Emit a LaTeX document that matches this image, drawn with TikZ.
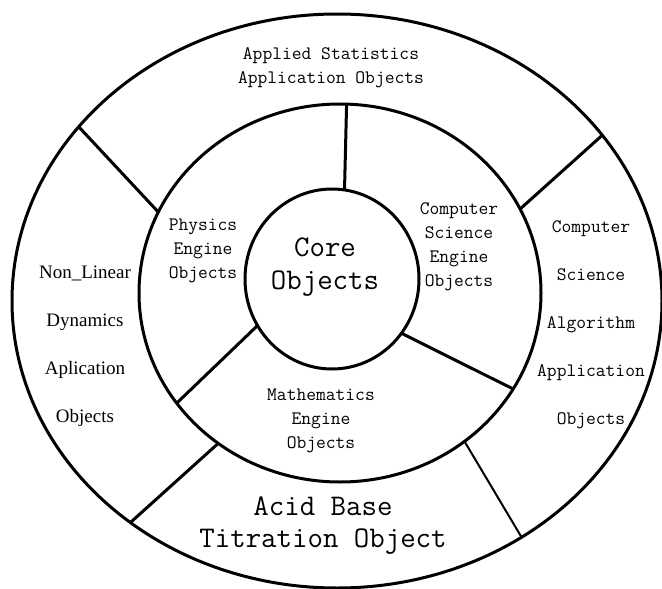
\documentclass[tikz,border=0pt]{standalone}
\usepackage{fontspec}
\setmonofont{Latin Modern Mono}
\newfontfamily\ringserif{Liberation Serif}
\usepackage{tikz}
\usetikzlibrary{shapes.geometric}

\begin{document}
\begin{tikzpicture}[x=1pt, y=-1pt,
    ring/.style={ellipse, draw, line width=3pt, inner sep=0pt, outer sep=0pt},
    divider/.style={line width=3pt},
    smalllabel/.style={align=center, font=\ttfamily\fontsize{19}{24}\selectfont},
    widelabel/.style={align=center, font=\ttfamily\fontsize{19}{48}\selectfont},
    biglabel/.style={align=center, font=\ttfamily\fontsize{30}{33}\selectfont}]
    \useasboundingbox (0,0) rectangle (662,589);
    % the three rings
    \node[ring, minimum width=650pt, minimum height=574pt] (outer) at (337,301) {};
    \node[ring, minimum width=402pt, minimum height=378pt] (engine) at (340,293) {};
    \node[ring, minimum width=174pt, minimum height=180pt] (core) at (332,279) {};
    % dividers between the engine objects
    \draw[divider] (core.82.5) -- (engine.88.8);
    \draw[divider] (core.212) -- (engine.214.3);
    \draw[divider] (core.322.7) -- (engine.331.5);
    % dividers between the application objects
    \draw[divider] (engine.156.7) -- (outer.146.9);
    \draw[divider] (engine.25) -- (outer.32.9);
    \draw[divider] (engine.231.4) -- (outer.227.8);
    \draw[line width=2pt] (engine.310.3) -- (outer.308.5);
    % labels
    \node[biglabel] (coretext) at (325,267) {Core\\Objects};
    \node[smalllabel] (physics) at (203,251) {Physics\\Engine\\Objects};
    \node[smalllabel] (cseng) at (459,247) {Computer\\Science\\Engine\\Objects};
    \node[smalllabel] (matheng) at (321,421) {Mathematics\\Engine\\Objects};
    \node[smalllabel] (stats) at (331,68) {Applied Statistics\\Application Objects};
    \node[widelabel] (csalgo) at (591,325) {Computer\\Science\\Algorithm\\Application\\Objects};
    \node[align=center, font=\ringserif\fontsize{19}{48}\selectfont] (nonlin) at (85,346) {Non\_Linear\\Dynamics\\Aplication\\Objects};
    \node[biglabel, font=\ttfamily\fontsize{30}{32}\selectfont] (acid) at (323,526) {Acid Base\\Titration Object};
\end{tikzpicture}
\end{document}
